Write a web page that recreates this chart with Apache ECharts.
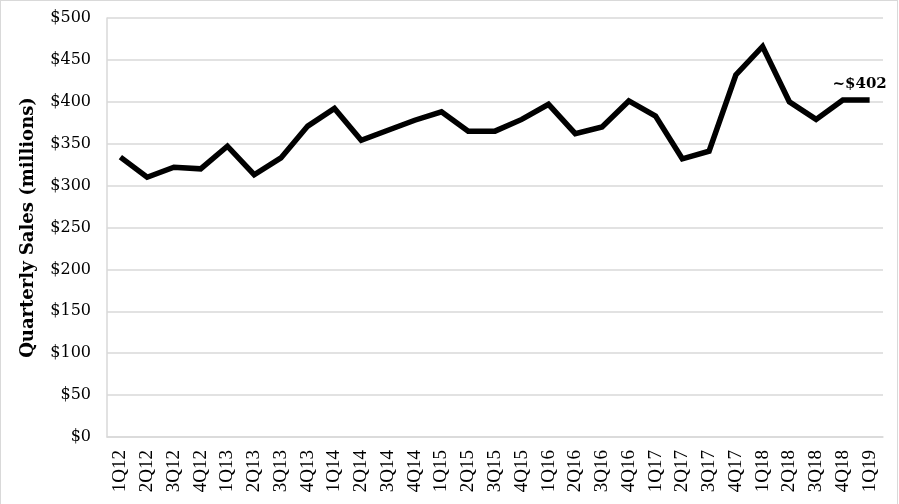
<!DOCTYPE html>
<html><head><meta charset="utf-8">
<script src="https://cdn.jsdelivr.net/npm/echarts@6/dist/echarts.min.js"></script>
<style>html,body{margin:0;padding:0;background:#fff;overflow:hidden}
#c{position:absolute;left:0;top:0;width:898px;height:510px;border:1px solid #d9d9d9;box-sizing:border-box}</style>
</head><body><div id="c"></div>
<script>
const categories = ['1Q12','2Q12','3Q12','4Q12','1Q13','2Q13','3Q13','4Q13','1Q14','2Q14','3Q14','4Q14','1Q15','2Q15','3Q15','4Q15','1Q16','2Q16','3Q16','4Q16','1Q17','2Q17','3Q17','4Q17','1Q18','2Q18','3Q18','4Q18','1Q19'];
const sales = [334,310,322,320,347,313,333,371,392,354,366,378,388,365,365,379,397,362,370,401,383,332,341,432,466,400,379,402,402];
const yTicks = {min:0, max:500, interval:50};
const lastLabel = '~$402';

const chart = echarts.init(document.getElementById('c'), null, {renderer:'canvas'});
const data = sales.map((v,i)=> i===sales.length-1 ? {value:v, label:{show:true, formatter:lastLabel}} : v);
chart.setOption({
  animation:false,
  grid:{left:106, right:14, top:17, bottom:72},
  xAxis:{type:'category', data:categories, boundaryGap:true,
    axisLine:{show:true, lineStyle:{color:'#d9d9d9', width:1.5}},
    axisTick:{show:false},
    axisLabel:{rotate:90, interval:0, margin:13, color:'#000', fontFamily:'Liberation Serif', fontSize:19}},
  yAxis:{type:'value', min:yTicks.min, max:yTicks.max, interval:yTicks.interval,
    name:'Quarterly Sales (millions)', nameLocation:'middle', nameGap:70,
    nameTextStyle:{fontFamily:'DejaVu Serif', fontWeight:'bold', fontSize:18, color:'#000'},
    axisLine:{show:true, lineStyle:{color:'#d9d9d9', width:1.5}},
    axisTick:{show:false},
    splitLine:{lineStyle:{color:'#d9d9d9', width:1.5}},
    axisLabel:{margin:16, color:'#000', fontFamily:'DejaVu Serif', fontSize:16, formatter:v=>'$'+v}},
  series:[{type:'line', data:data, symbol:'circle', symbolSize:0, showSymbol:true,
    itemStyle:{color:'#000'},
    lineStyle:{color:'#000', width:5.5, join:'miter'},
    label:{show:false, position:'top', offset:[-10,-4], color:'#000', fontFamily:'DejaVu Serif', fontWeight:'bold', fontSize:15}}]
});
</script></body></html>
